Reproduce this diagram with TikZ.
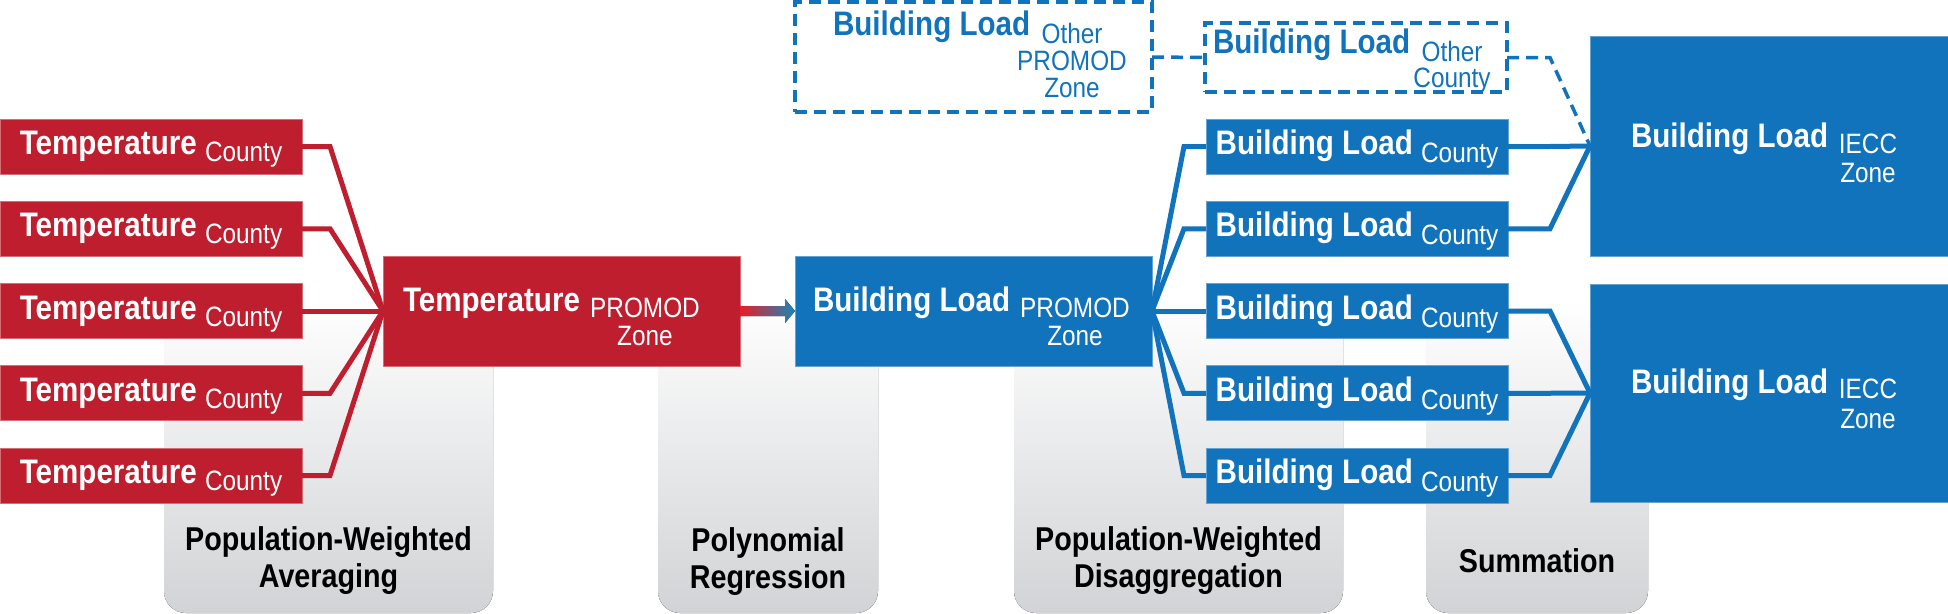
\documentclass[tikz,border=0pt]{standalone}
\usepackage{fontspec}
\setmainfont{Liberation Sans}[FakeStretch=0.87]
\usetikzlibrary{backgrounds}
\definecolor{bred}{RGB}{190,30,45}
\definecolor{bblue}{RGB}{17,115,187}
\definecolor{cgrey}{RGB}{210,211,214}
\definecolor{arrred}{RGB}{237,28,36}
\definecolor{arrblue}{RGB}{20,135,185}
\newcommand\MyMain{\fontsize{34}{40}\selectfont\bfseries}
\newcommand\MySub{\fontsize{28}{28}\selectfont\mdseries}
\newcommand\MyCol{\fontsize{33}{37}\selectfont\bfseries}
\newcommand\SubStack[2]{{\fontsize{28}{#1}\selectfont\mdseries\begin{tabular}[t]{@{}c@{}}#2\end{tabular}}}
\begin{document}
\begin{tikzpicture}[x=1pt,y=-1pt,
  box/.style={rectangle, inner sep=0pt, outer sep=0pt},
  redbox/.style={box, fill=bred, draw=bred!65!white, line width=1pt},
  bluebox/.style={box, fill=bblue, draw=bblue!65!white, line width=1pt},
  dbox/.style={box, draw=bblue, line width=3.5pt, dash pattern=on 12pt off 7pt},
  txt/.style={inner sep=0pt, outer sep=0pt, font=\MyMain},
  wtxt/.style={txt, text=white},
  btxt/.style={txt, text=bblue},
  coltxt/.style={inner sep=0pt, outer sep=0pt, font=\MyCol, text=black, anchor=base},
  redline/.style={draw=bred, line width=5pt},
  blueline/.style={draw=bblue, line width=5pt},
  dline/.style={draw=bblue, line width=3.5pt, dash pattern=on 12pt off 7pt},
  column/.style={top color=white, bottom color=cgrey, rounded corners=22pt}
]
\useasboundingbox (0,0) rectangle (1948,613);

% grey step columns
\fill[column] (164,300) rectangle (493,613);
\fill[column] (658,300) rectangle (878,613);
\fill[column] (1014,300) rectangle (1343,613);
\fill[column] (1426,300) rectangle (1648,613);

\node[coltxt] (col1) at (328.5,550) {\begin{tabular}[t]{@{}c@{}}Population-Weighted\\Averaging\end{tabular}};
\node[coltxt] (col2) at (768,551) {\begin{tabular}[t]{@{}c@{}}Polynomial\\Regression\end{tabular}};
\node[coltxt] (col3) at (1178.5,550) {\begin{tabular}[t]{@{}c@{}}Population-Weighted\\Disaggregation\end{tabular}};
\node[coltxt] (col4) at (1537,572) {Summation};

% temperature county boxes
\foreach \i/\yy in {1/146.5,2/228.75,3/311,4/393.25,5/475.5}{
  \node[redbox, minimum width=302pt, minimum height=55pt] (t\i) at (151,\yy) {};
  \node[wtxt, anchor=base] (t\i l) at ([yshift=-8pt]t\i.center) {Temperature {\MySub\raisebox{-7pt}{County}}};
}
% temperature PROMOD zone
\node[redbox, minimum width=357pt, minimum height=110pt] (tpz) at (561.5,311) {};
\node[wtxt, anchor=base west] (tpzl) at (403,311) {Temperature};
\node[wtxt, anchor=base] (tpzs) at (645,317) {\SubStack{28}{PROMOD\\Zone}};

% building load PROMOD zone
\node[bluebox, minimum width=357pt, minimum height=110pt] (blz) at (973.5,311) {};
\node[wtxt, anchor=base west] (blzl) at (813,311) {Building Load};
\node[wtxt, anchor=base] (blzs) at (1075,317) {\SubStack{28}{PROMOD\\Zone}};

% dashed boxes
\node[dbox, minimum width=357pt, minimum height=110pt] (d1) at (973.5,57) {};
\node[btxt, anchor=base west] (d1l) at (833,35) {Building Load};
\node[btxt, anchor=base] (d1s) at (1072,43) {\SubStack{25.5}{Other\\PROMOD\\Zone}};
\node[dbox, minimum width=302pt, minimum height=69pt] (d2) at (1356,57.5) {};
\node[btxt, anchor=base west] (d2l) at (1213,53) {Building Load};
\node[btxt, anchor=base] (d2s) at (1452,61) {\SubStack{22}{Other\\County}};

% building load county boxes
\foreach \i/\yy in {1/146.5,2/228.75,3/311,4/393.25,5/475.5}{
  \node[bluebox, minimum width=302pt, minimum height=55pt] (c\i) at (1357,\yy) {};
  \node[wtxt, anchor=base] (c\i l) at ([yshift=-8pt]c\i.center) {Building Load {\MySub\raisebox{-8pt}{County}}};
}

% IECC zone boxes
\node[bluebox, minimum width=358pt, minimum height=220pt] (e1) at (1769,146) {};
\node[wtxt, anchor=base west] (e1l) at (1631,147) {Building Load};
\node[wtxt, anchor=base] (e1s) at (1868,153) {\SubStack{29}{IECC\\Zone}};
\node[bluebox, minimum width=358pt, minimum height=218pt] (e2) at (1769,393) {};
\node[wtxt, anchor=base west] (e2l) at (1631,393) {Building Load};
\node[wtxt, anchor=base] (e2s) at (1868,398) {\SubStack{30}{IECC\\Zone}};

% red fan-in
\foreach \i in {1,2,4,5}{
  \draw[redline] (t\i.east) -- ++(28,0) -- (tpz.west);
}
\draw[redline] (t3.east) -- (tpz.west);

% gradient arrow
\fill[left color=arrred, right color=arrblue]
  ([yshift=5pt]tpz.east) -- ++(45,0) -- ++(0,-7) -- (blz.west) -- ++(-10,12) -- ++(0,-7) -- ++(-45,0) -- cycle;

% blue fan-out
\foreach \i in {1,2,4,5}{
  \draw[blueline] (blz.east) -- ([xshift=-22pt]c\i.west) -- (c\i.west);
}
\draw[blueline] (blz.east) -- (c3.west);

% summation fan-in
\foreach \i in {1,2}{
  \draw[blueline] (c\i.east) -- ++(42,0) -- (e1.west);
}
\foreach \i in {3,4,5}{
  \draw[blueline] (c\i.east) -- ++(42,0) -- (e2.west);
}

% dashed connectors
\draw[dline] (d1.east) -- (d2.west);
\draw[dline] (d2.east) -- ++(43,0) -- (e1.west);
\end{tikzpicture}
\end{document}
